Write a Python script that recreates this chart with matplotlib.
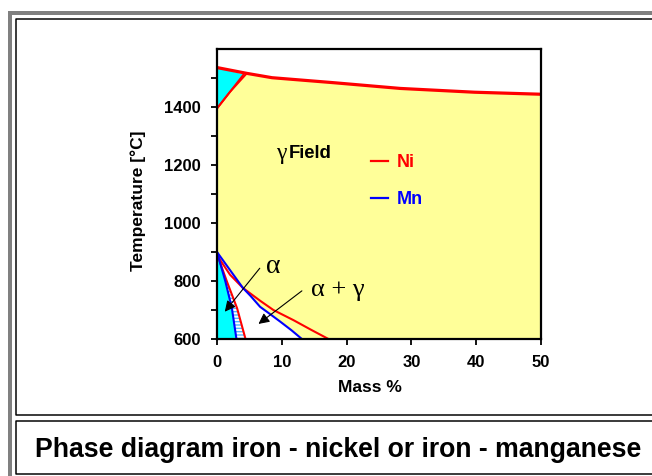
import matplotlib
matplotlib.use('Agg')
import matplotlib.pyplot as plt
from matplotlib.lines import Line2D

W, H = 652, 476

# ---- data: Mass % vs Temperature [°C] ----
ni_liquidus_x = [0, 4.6, 8.5, 17.9, 28.3, 39.7, 50]
ni_liquidus_t = [1536, 1516, 1501, 1484, 1464, 1451, 1444]
ni_delta_x = [0, 4.1]
ni_delta_t = [1395, 1512]
ni_delta_gamma_x = [0, 2.0, 4.6]
ni_delta_gamma_t = [1395, 1452, 1516]

mn_alpha_x = [0, 1.3, 2.3, 3.0]
mn_alpha_t = [900, 798, 706, 600]
ni_alpha_x = [0, 1.55, 3.1, 4.4]
ni_alpha_t = [893, 797, 706, 600]
mn_gamma_x = [0, 1, 2, 3, 4, 5.2, 6.65, 8, 9.75, 11.5, 13.1]
mn_gamma_t = [900, 869, 838, 807, 776, 748, 711, 689, 660, 630, 600]
ni_gamma_x = [0, 0.5, 2, 4, 6.65, 8.7, 11.8, 14.5, 17.2]
ni_gamma_t = [893, 872, 822, 776, 732, 700, 665, 632, 600]

x_ticks = [0, 10, 20, 30, 40, 50]
y_ticks = [600, 800, 1000, 1200, 1400]
y_minor = [700, 900, 1100, 1300, 1500]
x_lim = (0, 50)
y_lim = (600, 1600)

YELLOW = '#FFFF99'
CYAN = '#00FFFF'
RED = '#FF0000'
BLUE = '#0000FF'
SANS = 'Liberation Sans'
SERIF = 'Liberation Serif'

fig = plt.figure(figsize=(W / 100, H / 100), dpi=100)


def fx(px):
    return px / W


def fy(py):
    return 1 - py / H


# ---- frame decoration ----
px_lw = 72 / 100
fig.add_artist(Line2D([fx(10), fx(W + 5)], [fy(13), fy(13)], color='#808080', lw=4 * px_lw, solid_capstyle='butt'))
fig.add_artist(Line2D([fx(10), fx(10)], [fy(11), fy(H + 5)], color='#808080', lw=4 * px_lw, solid_capstyle='butt'))
# inner box
fig.add_artist(Line2D([fx(W + 5), fx(16), fx(16), fx(W + 5)], [fy(19), fy(19), fy(415), fy(415)], color='black', lw=1.5 * px_lw))
# title box
fig.add_artist(Line2D([fx(W + 5), fx(16), fx(16), fx(W + 5)], [fy(421), fy(421), fy(474), fy(474)], color='black', lw=1.5 * px_lw))

# ---- axes ----
ax = fig.add_axes([fx(217), fy(339), (541 - 217) / W, (339 - 49) / H])
ax.set_xlim(*x_lim)
ax.set_ylim(*y_lim)

# gamma field (below liquidus)
ax.fill(ni_liquidus_x + [x_lim[1], x_lim[0]], ni_liquidus_t + [y_lim[0], y_lim[0]],
        facecolor=YELLOW, edgecolor='none', zorder=1)
# delta field
ax.fill(ni_delta_x + [0], ni_delta_t + [ni_liquidus_t[0]], facecolor=CYAN, edgecolor='none', zorder=2)
# delta + gamma sliver
ax.fill(ni_delta_x + ni_delta_gamma_x[::-1], ni_delta_t + ni_delta_gamma_t[::-1],
        facecolor='white', edgecolor='none', zorder=2)

# alpha + gamma (white)
ax.fill(ni_alpha_x + mn_gamma_x[::-1], ni_alpha_t + mn_gamma_t[::-1], facecolor='white', edgecolor='none', zorder=2)
# hatched alpha region (Ni beyond Mn)
plt.rcParams['hatch.linewidth'] = 1.0
ax.fill(mn_alpha_x + ni_alpha_x[::-1], mn_alpha_t + ni_alpha_t[::-1], facecolor='white',
        edgecolor='#4DB8FF', hatch='-----', linewidth=0, zorder=2)
# alpha field (cyan)
ax.fill([0] + mn_alpha_x, [y_lim[0]] + mn_alpha_t, facecolor=CYAN, edgecolor='none', zorder=2)

# lines
ax.plot(ni_liquidus_x, ni_liquidus_t, color=RED, lw=2.3, zorder=4, solid_capstyle='butt')
ax.plot(ni_delta_x, ni_delta_t, color=RED, lw=1.4, zorder=4)
ax.plot(ni_delta_gamma_x, ni_delta_gamma_t, color=RED, lw=1.4, zorder=4)
ni_line, = ax.plot(ni_gamma_x, ni_gamma_t, color=RED, lw=1.5, zorder=4)
ax.plot(ni_alpha_x, ni_alpha_t, color=RED, lw=1.5, zorder=4)
mn_line, = ax.plot(mn_gamma_x, mn_gamma_t, color=BLUE, lw=1.5, zorder=5)
ax.plot(mn_alpha_x, mn_alpha_t, color=BLUE, lw=1.5, zorder=5)

# axes style
for s in ax.spines.values():
    s.set_linewidth(1.6)
    s.set_zorder(10)
ax.set_xticks(x_ticks)
ax.set_yticks(y_ticks)
ax.set_yticks(y_minor, minor=True)
ax.tick_params(axis='both', which='both', direction='out', length=4.5, width=1.3, pad=7)
ax.tick_params(axis='y', which='minor', labelleft=False)
for lab in ax.get_xticklabels() + ax.get_yticklabels():
    lab.set_fontfamily(SANS)
    lab.set_fontweight('bold')
    lab.set_fontsize(12)

# annotations
ax.text(9.9, 1222, 'γ', family=SERIF, fontsize=17, ha='center', va='baseline', zorder=6)
ax.text(11.0, 1240, 'Field', family=SANS, fontweight='bold', fontsize=13.3, ha='left', va='center', zorder=6)
ax.text(8.7, 850, 'α', family=SERIF, fontsize=20, ha='center', va='center', zorder=6)
ax.text(18.7, 768, 'α + γ', family=SERIF, fontsize=19, ha='center', va='center', zorder=6)

arrow_kw = dict(arrowstyle='-|>', color='black', lw=0.8, mutation_scale=16, shrinkA=0, shrinkB=0)
ax.annotate('', xy=(1.2, 694), xytext=(6.6, 844), arrowprops=arrow_kw, zorder=7)
ax.annotate('', xy=(6.4, 652), xytext=(13.1, 766), arrowprops=arrow_kw, zorder=7)

leg = ax.legend([ni_line, mn_line], ['Ni', 'Mn'], loc='upper left', bbox_to_anchor=((371 - 217) / 324, (339 - 154) / 290),
                frameon=False, borderpad=0, borderaxespad=0, handlelength=0.95, handletextpad=0.5,
                labelspacing=1.13, prop=dict(family=SANS, weight='bold', size=13))
for t, c in zip(leg.get_texts(), [RED, BLUE]):
    t.set_color(c)
for h in leg.legend_handles:
    h.set_linewidth(1.6)

# axis labels
fig.text(fx(138), fy(201), 'Temperature [°C]', rotation=90, family=SANS, fontweight='bold', fontsize=12.5,
         ha='center', va='center')
fig.text(fx(370), fy(388), 'Mass %', family=SANS, fontweight='bold', fontsize=12.5, ha='center', va='center')

# title
fig.text(fx(338), fy(450), 'Phase diagram iron - nickel or iron - manganese', family=SANS, fontweight='bold',
         fontsize=19.2, ha='center', va='center')

fig.savefig('out.png', dpi=100, facecolor='white')
